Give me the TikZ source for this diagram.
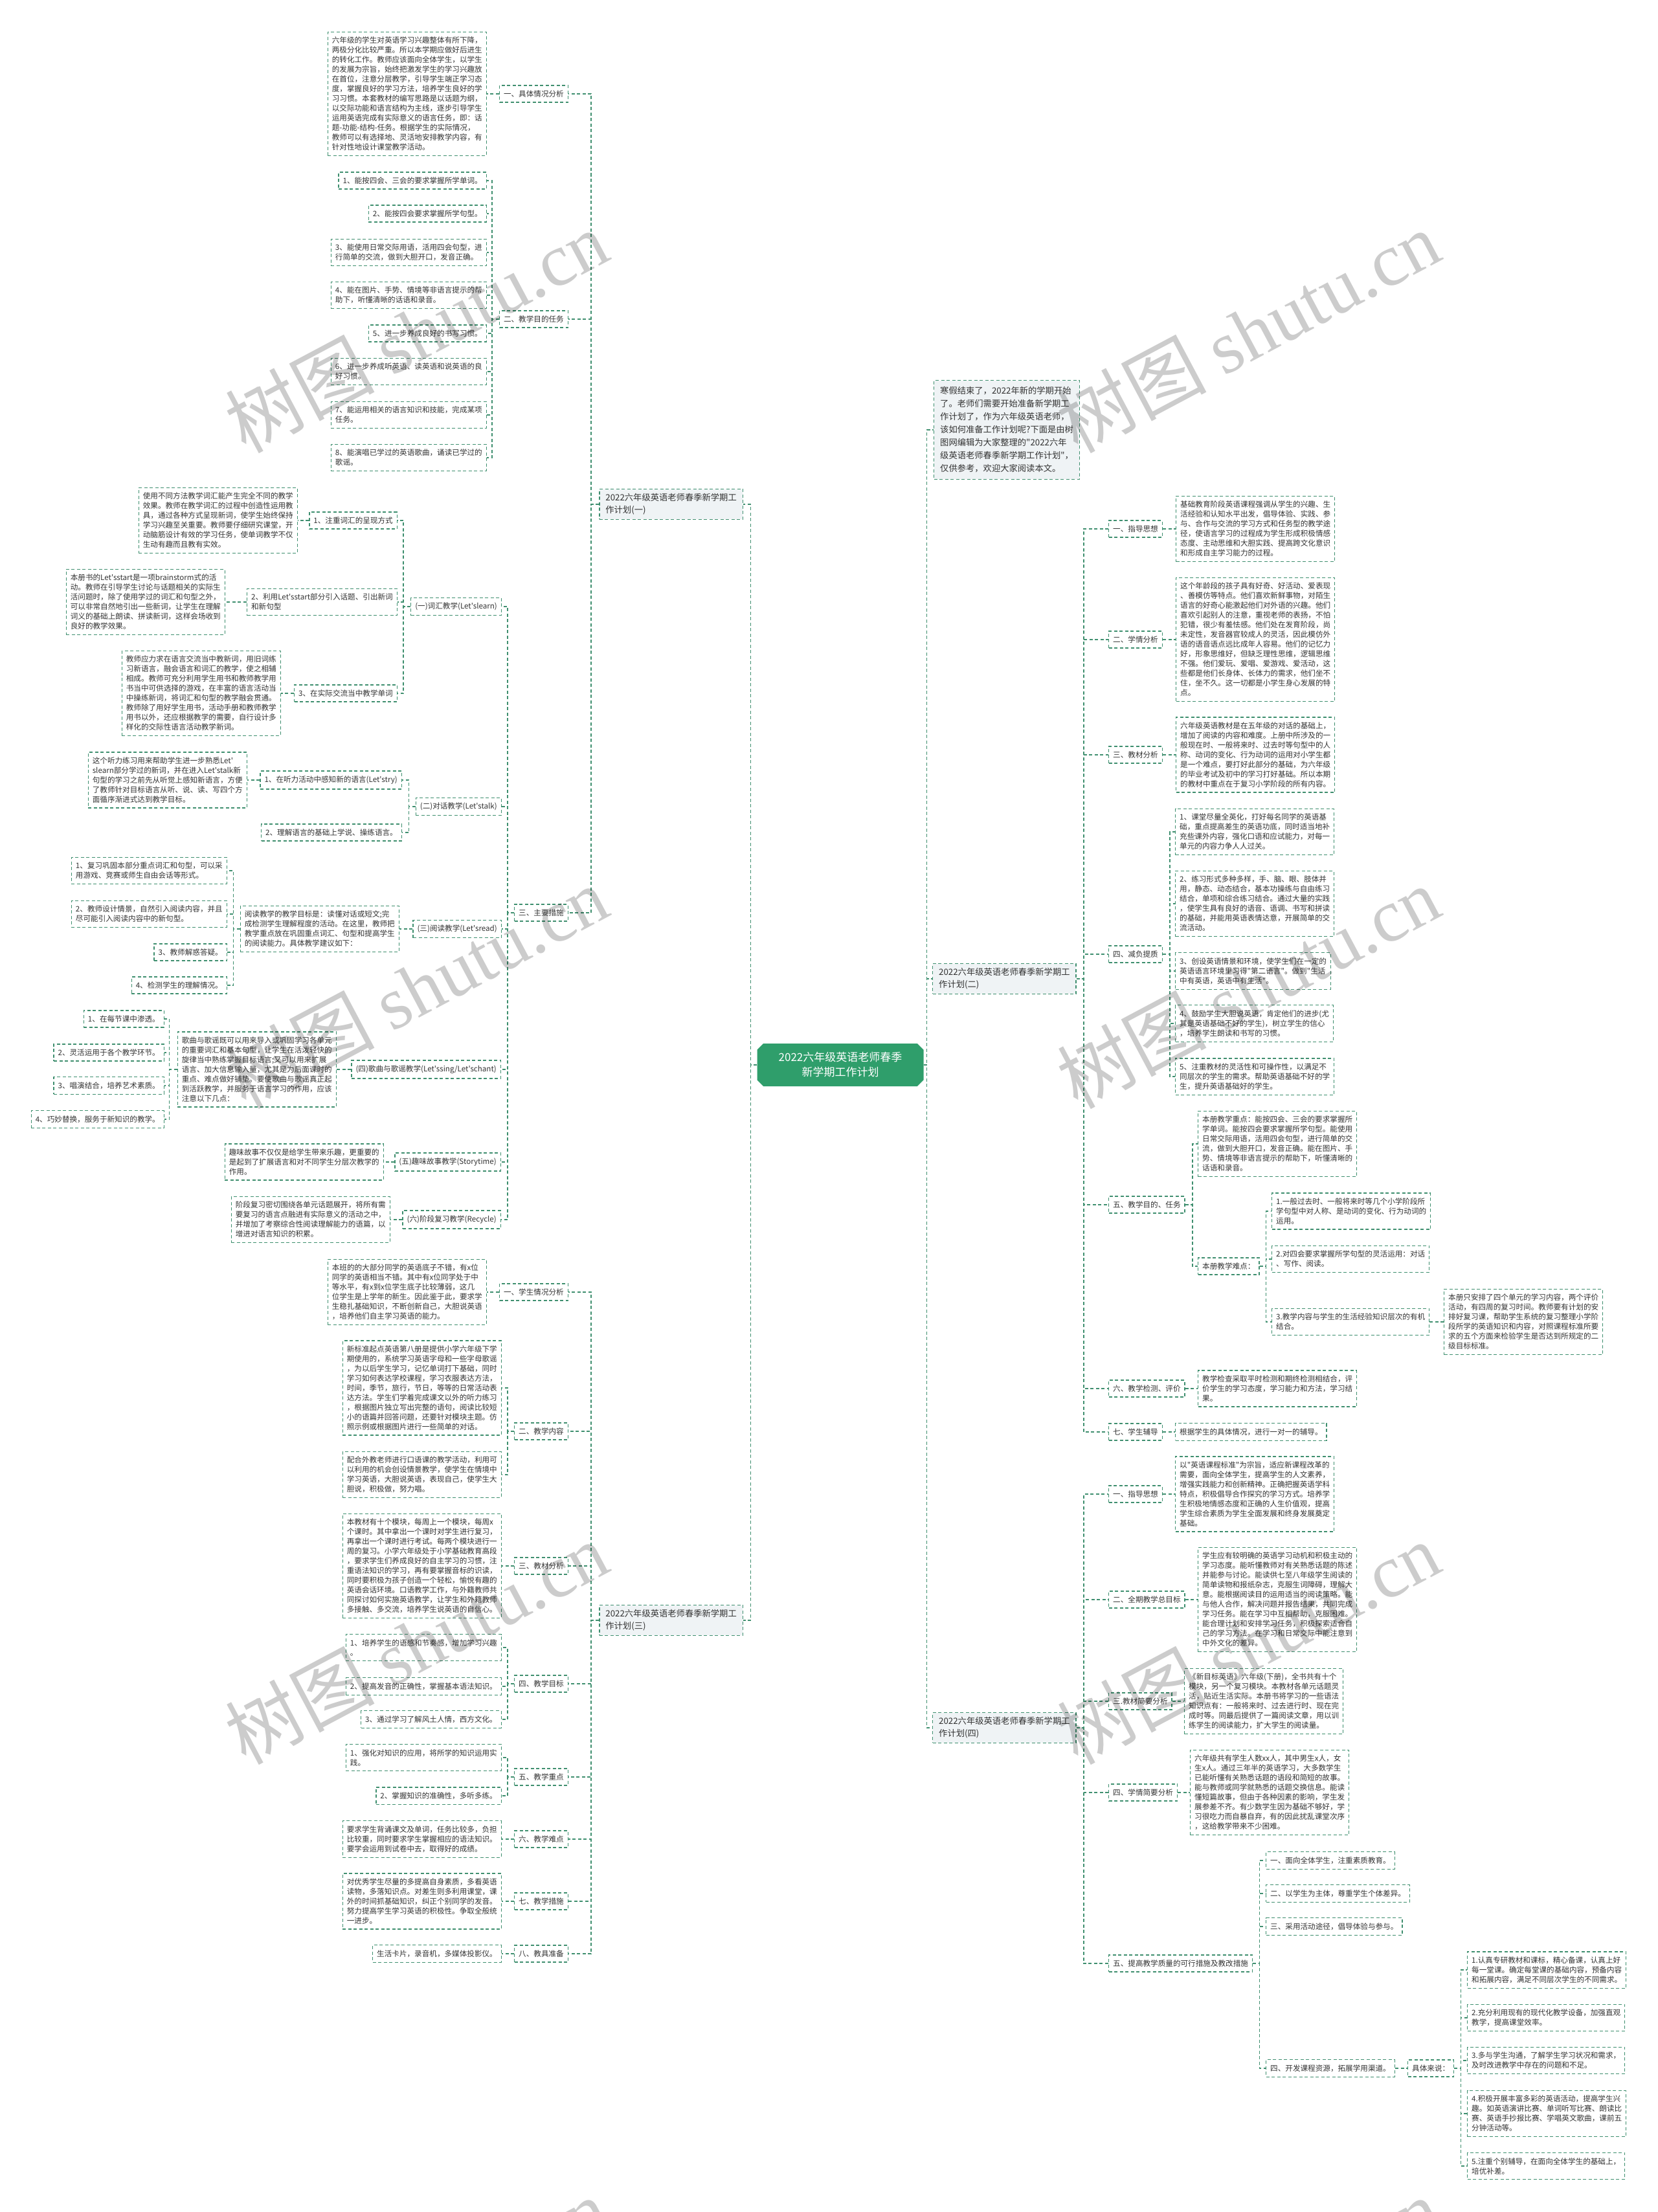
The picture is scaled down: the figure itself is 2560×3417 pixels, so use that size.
\documentclass[tikz,border=0pt]{standalone}
\usepackage{fontspec}
\setmainfont{Noto Sans CJK SC}[Ligatures=TeXOff]
\newfontfamily\markfont{Liberation Serif}
\usetikzlibrary{shapes.misc}
\definecolor{Line}{HTML}{3F8F6F}
\definecolor{Mist}{HTML}{EFF3F5}
\definecolor{Root}{HTML}{2F9E6B}
\definecolor{Ink}{HTML}{333333}
\tikzset{
  leaf/.style={draw=Line, line width=1.4pt, dash pattern=on 5pt off 3.5pt, fill=white,
    text=Ink, align=left, inner xsep=6.5pt, inner ysep=7.7pt, font=\fontsize{11.6}{15}\selectfont},
  topic/.style={leaf, fill=Mist, inner xsep=9.5pt, inner ysep=7pt, font=\fontsize{13.3}{19}\selectfont},
  intro/.style={topic, inner ysep=10pt, font=\fontsize{13.3}{20}\selectfont},
  root/.style={chamfered rectangle, chamfered rectangle xsep=6pt, fill=Root, text=white,
    align=center, minimum width=257pt, minimum height=66pt, font=\fontsize{17}{23}\selectfont},
  link/.style={draw=Line, line width=1.4pt, dash pattern=on 5pt off 3.5pt},
  wmark/.style={rotate=28, text=black, text opacity=0.2, font=\fontsize{115}{115}\selectfont}
}
\begin{document}
\begin{tikzpicture}[x=1pt, y=-1pt]
\fill[white] (0,0) rectangle (2560,3417);
\useasboundingbox (0,0) rectangle (2560,3417);

% centre
\node[root] (root) at (1298,1645) {2022六年级英语老师春季\\新学期工作计划};

% left half
\begin{scope}[every node/.append style={anchor=east}]
\node[topic] (m1) at (1148,779) {2022六年级英语老师春季新学期工\\作计划(一)};
\node[topic] (m3) at (1148,2503) {2022六年级英语老师春季新学期工\\作计划(三)};

\node[leaf] (a1) at (878,145) {一、具体情况分析};
\node[leaf] (a1t) at (752,145) {六年级的学生对英语学习兴趣整体有所下降，\\两极分化比较严重。所以本学期应做好后进生\\的转化工作。教师应该面向全体学生，以学生\\的发展为宗旨，始终把激发学生的学习兴趣放\\在首位，注意分层教学，引导学生端正学习态\\度，掌握良好的学习方法，培养学生良好的学\\习习惯。本套教材的编写思路是以话题为纲，\\以交际功能和语言结构为主线，逐步引导学生\\运用英语完成有实际意义的语言任务，即：话\\题-功能-结构-任务。根据学生的实际情况，\\教师可以有选择地、灵活地安排教学内容，有\\针对性地设计课堂教学活动。};

\node[leaf] (a2) at (878,493) {二、教学目的任务};
\node[leaf] (a2i1) at (752,279) {1、能按四会、三会的要求掌握所学单词。};
\node[leaf] (a2i2) at (752,330) {2、能按四会要求掌握所学句型。};
\node[leaf] (a2i3) at (752,390) {3、能使用日常交际用语，活用四会句型，进\\行简单的交流，做到大胆开口，发音正确。};
\node[leaf] (a2i4) at (752,456) {4、能在图片、手势、情境等非语言提示的帮\\助下，听懂清晰的话语和录音。};
\node[leaf] (a2i5) at (752,515) {5、进一步养成良好的书写习惯。};
\node[leaf] (a2i6) at (752,574) {6、进一步养成听英语、读英语和说英语的良\\好习惯。};
\node[leaf] (a2i7) at (752,641) {7、能运用相关的语言知识和技能，完成某项\\任务。};
\node[leaf] (a2i8) at (752,707) {8、能演唱已学过的英语歌曲，诵读已学过的\\歌谣。};

\node[leaf] (a3) at (878,1410) {三、主要措施};
\node[leaf] (v1) at (775,937) {(一)词汇教学(Let'slearn)};
\node[leaf] (v1a) at (614,804) {1、注重词汇的呈现方式};
\node[leaf] (v1at) at (460,804) {使用不同方法教学词汇能产生完全不同的教学\\效果。教师在教学词汇的过程中创造性运用教\\具，通过各种方式呈现新词，使学生始终保持\\学习兴趣至关重要。教师要仔细研究课堂，开\\动脑筋设计有效的学习任务，使单词教学不仅\\生动有趣而且教有实效。};
\node[leaf] (v1b) at (614,930) {2、利用Let'sstart部分引入话题、引出新词\\和新句型};
\node[leaf] (v1bt) at (348,930) {本册书的Let'sstart是一项brainstorm式的活\\动。教师在引导学生讨论与话题相关的实际生\\活问题时，除了使用学过的词汇和句型之外，\\可以非常自然地引出一些新词，让学生在理解\\词义的基础上朗读、拼读新词，这样会场收到\\良好的教学效果。};
\node[leaf] (v1c) at (614,1071) {3、在实际交流当中教学单词};
\node[leaf] (v1ct) at (434,1071) {教师应力求在语言交流当中教新词，用旧词练\\习新语言，融会语言和词汇的教学，使之相辅\\相成。教师可充分利用学生用书和教师教学用\\书当中可供选择的游戏，在丰富的语言活动当\\中操练新词，将词汇和句型的教学融会贯通。\\教师除了用好学生用书，活动手册和教师教学\\用书以外，还应根据教学的需要，自行设计多\\样化的交际性语言活动教学新词。};

\node[leaf] (t2) at (775,1246) {(二)对话教学(Let'stalk)};
\node[leaf] (t2a) at (621,1205) {1、在听力活动中感知新的语言(Let'stry)};
\node[leaf] (t2at) at (382,1205) {这个听力练习用来帮助学生进一步熟悉Let'\\slearn部分学过的新词，并在进入Let'stalk新\\句型的学习之前先从听觉上感知新语言，方便\\了教师针对目标语言从听、说、读、写四个方\\面循序渐进式达到教学目标。};
\node[leaf] (t2b) at (621,1286) {2、理解语言的基础上学说、操练语言。};

\node[leaf] (r3) at (775,1435) {(三)阅读教学(Let'sread)};
\node[leaf] (r3t) at (617,1435) {阅读教学的教学目标是：读懂对话或短文;完\\成检测学生理解程度的活动。在这里，教师把\\教学重点放在巩固重点词汇、句型和提高学生\\的阅读能力。具体教学建议如下：};
\node[leaf] (r3i1) at (351,1345) {1、复习巩固本部分重点词汇和句型，可以采\\用游戏、竞赛或师生自由会话等形式。};
\node[leaf] (r3i2) at (351,1412) {2、教师设计情景，自然引入阅读内容，并且\\尽可能引入阅读内容中的新句型。};
\node[leaf] (r3i3) at (351,1471) {3、教师解惑答疑。};
\node[leaf] (r3i4) at (351,1522) {4、检测学生的理解情况。};

\node[leaf] (s4) at (774,1652) {(四)歌曲与歌谣教学(Let'ssing/Let'schant)};
\node[leaf] (s4t) at (520,1652) {歌曲与歌谣既可以用来导入或巩固学习各单元\\的重要词汇和基本句型，让学生在活泼轻快的\\旋律当中熟练掌握目标语言;又可以用来扩展\\语言、加大信息输入量，尤其是为后面课时的\\重点、难点做好铺垫。要使歌曲与歌谣真正起\\到活跃教学，并服务于语言学习的作用，应该\\注意以下几点：};
\node[leaf] (s4i1) at (254,1574) {1、在每节课中渗透。};
\node[leaf] (s4i2) at (254,1626) {2、灵活运用于各个教学环节。};
\node[leaf] (s4i3) at (254,1677) {3、唱演结合，培养艺术素质。};
\node[leaf] (s4i4) at (254,1729) {4、巧妙替换，服务于新知识的教学。};

\node[leaf] (s5) at (774,1795) {(五)趣味故事教学(Storytime)};
\node[leaf] (s5t) at (593,1795) {趣味故事不仅仅是给学生带来乐趣，更重要的\\是起到了扩展语言和对不同学生分层次教学的\\作用。};
\node[leaf] (s6) at (774,1884) {(六)阶段复习教学(Recycle)};
\node[leaf] (s6t) at (603,1884) {阶段复习密切围绕各单元话题展开，将所有需\\要复习的语言点融进有实际意义的活动之中，\\并增加了考察综合性阅读理解能力的语篇，以\\增进对语言知识的积累。};

% plan three
\node[leaf] (b1) at (878,1996) {一、学生情况分析};
\node[leaf] (b1t) at (752,1996) {本班的的大部分同学的英语底子不错，有x位\\同学的英语相当不错。其中有x位同学处于中\\等水平，有x到x位学生底子比较薄弱，这几\\位学生是上学年的新生。因此鉴于此，要求学\\生稳扎基础知识，不断创新自己，大胆说英语\\，培养他们自主学习英语的能力。};
\node[leaf] (b2) at (878,2211) {二、教学内容};
\node[leaf] (b2t1) at (775,2144) {新标准起点英语第八册是提供小学六年级下学\\期使用的，系统学习英语字母和一些字母歌谣\\，为以后学生学习，记忆单词打下基础，同时\\学习如何表达学校课程，学习衣服表达方法，\\时间，季节，旅行，节日，等等的日常活动表\\达方法。学生们学着完成课文以外的听力练习\\，根据图片独立写出完整的语句，阅读比较短\\小的语篇并回答问题，还要针对模块主题。仿\\照示例或根据图片进行一些简单的对话。};
\node[leaf] (b2t2) at (775,2278) {配合外教老师进行口语课的教学活动，利用可\\以利用的机会创设情景教学，使学生在情境中\\学习英语，大胆说英语，表现自己，使学生大\\胆说，积极做，努力唱。};
\node[leaf] (b3) at (878,2419) {三、教材分析};
\node[leaf] (b3t) at (775,2419) {本教材有十个模块，每周上一个模块，每周x\\个课时。其中拿出一个课时对学生进行复习，\\再拿出一个课时进行考试。每两个模块进行一\\周的复习。小学六年级处于小学基础教育高段\\，要求学生们养成良好的自主学习的习惯，注\\重语法知识的学习，再有要掌握音标的识读，\\同时要积极为孩子创造一个轻松，愉悦有趣的\\英语会话环境。口语教学工作，与外籍教师共\\同探讨如何实施英语教学，让学生和外籍教师\\多接触、多交流，培养学生说英语的自信心。};
\node[leaf] (b4) at (878,2601) {四、教学目标};
\node[leaf] (b4i1) at (775,2545) {1、培养学生的语感和节奏感，增加学习兴趣\\。};
\node[leaf] (b4i2) at (775,2605) {2、提高发音的正确性，掌握基本语法知识。};
\node[leaf] (b4i3) at (775,2656) {3、通过学习了解风土人情，西方文化。};
\node[leaf] (b5) at (878,2745) {五、教学重点};
\node[leaf] (b5i1) at (775,2715) {1、强化对知识的应用，将所学的知识运用实\\践。};
\node[leaf] (b5i2) at (775,2774) {2、掌握知识的准确性，多听多练。};
\node[leaf] (b6) at (878,2841) {六、教学难点};
\node[leaf] (b6t) at (775,2841) {要求学生背诵课文及单词，任务比较多，负担\\比较重，同时要求学生掌握相应的语法知识。\\要学会运用到试卷中去，取得好的成绩。};
\node[leaf] (b7) at (878,2937) {七、教学措施};
\node[leaf] (b7t) at (775,2937) {对优秀学生尽量的多提高自身素质，多看英语\\读物，多落知识点。对差生则多利用课堂，课\\外的时间抓基础知识，纠正个别同学的发音。\\努力提高学生学习英语的积极性。争取全般统\\一进步。};
\node[leaf] (b8) at (878,3018) {八、教具准备};
\node[leaf] (b8t) at (775,3018) {生活卡片，录音机，多媒体投影仪。};
\end{scope}

% right half
\begin{scope}[every node/.append style={anchor=west}]
\node[intro] (intro) at (1442,664) {寒假结束了，2022年新的学期开始\\了。老师们需要开始准备新学期工\\作计划了，作为六年级英语老师，\\该如何准备工作计划呢?下面是由树\\图网编辑为大家整理的"2022六年\\级英语老师春季新学期工作计划"，\\仅供参考，欢迎大家阅读本文。};
\node[topic] (m2) at (1440,1512) {2022六年级英语老师春季新学期工\\作计划(二)};
\node[topic] (m4) at (1440,2669) {2022六年级英语老师春季新学期工\\作计划(四)};

\node[leaf] (c1) at (1712,817) {一、指导思想};
\node[leaf] (c1t) at (1816,817) {基础教育阶段英语课程强调从学生的兴趣、生\\活经验和认知水平出发，倡导体验、实践、参\\与、合作与交流的学习方式和任务型的教学途\\径，使语言学习的过程成为学生形成积极情感\\态度、主动思维和大胆实践、提高跨文化意识\\和形成自主学习能力的过程。};
\node[leaf] (c2) at (1712,988) {二、学情分析};
\node[leaf] (c2t) at (1816,988) {这个年龄段的孩子具有好奇、好活动、爱表现\\、善模仿等特点。他们喜欢新鲜事物，对陌生\\语言的好奇心能激起他们对外语的兴趣。他们\\喜欢引起别人的注意，重视老师的表扬，不怕\\犯错，很少有羞怯感。他们处在发育阶段，尚\\未定性，发音器官较成人的灵活，因此模仿外\\语的语音语点远比成年人容易。他们的记忆力\\好，形象思维好，但缺乏理性思维，逻辑思维\\不强。他们爱玩、爱唱、爱游戏、爱活动，这\\些都是他们长身体、长体力的需求，他们坐不\\住，坐不久。这一切都是小学生身心发展的特\\点。};
\node[leaf] (c3) at (1712,1166) {三、教材分析};
\node[leaf] (c3t) at (1816,1166) {六年级英语教材是在五年级的对话的基础上，\\增加了阅读的内容和难度。上册中所涉及的一\\般现在时、一般将来时、过去时等句型中的人\\称、动词的变化、行为动词的运用对小学生都\\是一个难点，要打好此部分的基础，为六年级\\的毕业考试及初中的学习打好基础。所以本期\\的教材中重点在于复习小学阶段的所有内容。};
\node[leaf] (c4) at (1712,1474) {四、减负提质};
\node[leaf] (c4i1) at (1815,1285) {1、课堂尽量全英化，打好每名同学的英语基\\础，重点提高差生的英语功底，同时适当地补\\充些课外内容，强化口语和应试能力，对每一\\单元的内容力争人人过关。};
\node[leaf] (c4i2) at (1815,1396) {2、练习形式多种多样，手、脑、眼、肢体并\\用，静态、动态结合，基本功操练与自由练习\\结合，单项和综合练习结合。通过大量的实践\\，使学生具有良好的语音、语调、书写和拼读\\的基础，并能用英语表情达意，开展简单的交\\流活动。};
\node[leaf] (c4i3) at (1815,1500) {3、创设英语情景和环境，使学生们在一定的\\英语语言环境里习得"第二语言"。做到"生活\\中有英语，英语中有生活"。};
\node[leaf] (c4i4) at (1815,1581) {4、鼓励学生大胆说英语，肯定他们的进步(尤\\其是英语基础不好的学生)，树立学生的信心\\，培养学生朗读和书写的习惯。};
\node[leaf] (c4i5) at (1815,1663) {5、注重教材的灵活性和可操作性，以满足不\\同层次的学生的需求。帮助英语基础不好的学\\生，提升英语基础好的学生。};
\node[leaf] (c5) at (1712,1861) {五、教学目的、任务};
\node[leaf] (c5t) at (1850,1767) {本册教学重点：能按四会、三会的要求掌握所\\学单词。能按四会要求掌握所学句型。能使用\\日常交际用语，活用四会句型，进行简单的交\\流，做到大胆开口，发音正确。能在图片、手\\势、情境等非语言提示的帮助下，听懂清晰的\\话语和录音。};
\node[leaf] (c5d) at (1850,1956) {本册教学难点：};
\node[leaf] (c5d1) at (1964,1871) {1.一般过去时、一般将来时等几个小学阶段所\\学句型中对人称、是动词的变化、行为动词的\\运用。};
\node[leaf] (c5d2) at (1964,1945) {2.对四会要求掌握所学句型的灵活运用：对话\\、写作、阅读。};
\node[leaf] (c5d3) at (1964,2042) {3.教学内容与学生的生活经验知识层次的有机\\结合。};
\node[leaf] (c5d3t) at (2230,2042) {本册只安排了四个单元的学习内容，两个评价\\活动，有四周的复习时间。教师要有计划的安\\排好复习课，帮助学生系统的复习整理小学阶\\段所学的英语知识和内容，对照课程标准所要\\求的五个方面来检验学生是否达到所规定的二\\级目标标准。};
\node[leaf] (c6) at (1712,2145) {六、教学检测、评价};
\node[leaf] (c6t) at (1850,2145) {教学检查采取平时检测和期终检测相结合，评\\价学生的学习态度，学习能力和方法，学习结\\果。};
\node[leaf] (c7) at (1712,2212) {七、学生辅导};
\node[leaf] (c7t) at (1815,2212) {根据学生的具体情况，进行一对一的辅导。};

% plan four
\node[leaf] (d1) at (1712,2308) {一、指导思想};
\node[leaf] (d1t) at (1815,2308) {以"英语课程标准"为宗旨，适应新课程改革的\\需要，面向全体学生，提高学生的人文素养，\\增强实践能力和创新精神。正确把握英语学科\\特点，积极倡导合作探究的学习方式。培养学\\生积极地情感态度和正确的人生价值观，提高\\学生综合素质为学生全面发展和终身发展奠定\\基础。};
\node[leaf] (d2) at (1712,2471) {二、全期教学总目标};
\node[leaf] (d2t) at (1850,2471) {学生应有较明确的英语学习动机和积极主动的\\学习态度。能听懂教师对有关熟悉话题的陈述\\并能参与讨论。能读供七至八年级学生阅读的\\简单读物和报纸杂志，克服生词障碍，理解大\\意。能根据阅读目的运用适当的阅读策略。能\\与他人合作，解决问题并报告结果，共同完成\\学习任务。能在学习中互相帮助，克服困难。\\能合理计划和安排学习任务，积极探索适合自\\己的学习方法。在学习和日常交际中能注意到\\中外文化的差异。};
\node[leaf] (d3) at (1712,2628) {三.教材简要分析};
\node[leaf] (d3t) at (1829,2628) {《新目标英语》六年级(下册)，全书共有十个\\模块，另一个复习模块。本教材各单元话题灵\\活，贴近生活实际。本册书将学习的一些语法\\知识点有：一般将来时、过去进行时、现在完\\成时等。同最后提供了一篇阅读文章，用以训\\练学生的阅读能力，扩大学生的阅读量。};
\node[leaf] (d4) at (1712,2769) {四、学情简要分析};
\node[leaf] (d4t) at (1838,2769) {六年级共有学生人数xx人，其中男生x人，女\\生x人。通过三年半的英语学习，大多数学生\\已能听懂有关熟悉话题的语段和简短的故事。\\能与教师或同学就熟悉的话题交换信息。能读\\懂短篇故事，但由于各种因素的影响，学生发\\展参差不齐。有少数学生因为基础不够好，学\\习很吃力而自暴自弃，有的因此扰乱课堂次序\\，这给教学带来不少困难。};
\node[leaf] (d5) at (1712,3033) {五、提高教学质量的可行措施及教改措施};
\node[leaf] (d5i1) at (1955,2874) {一、面向全体学生，注重素质教育。};
\node[leaf] (d5i2) at (1955,2925) {二、以学生为主体，尊重学生个体差异。};
\node[leaf] (d5i3) at (1955,2976) {三、采用活动途径，倡导体验与参与。};
\node[leaf] (d5i4) at (1955,3195) {四、开发课程资源，拓展学用渠道。};
\node[leaf] (d5s) at (2174,3195) {具体来说：};
\node[leaf] (d5s1) at (2266,3043) {1.认真专研教材和课标，精心备课，认真上好\\每一堂课。确定每堂课的基础内容，预备内容\\和拓展内容，满足不同层次学生的不同需求。};
\node[leaf] (d5s2) at (2266,3117) {2.充分利用现有的现代化教学设备，加强直观\\教学，提高课堂效率。};
\node[leaf] (d5s3) at (2266,3183) {3.多与学生沟通，了解学生学习状况和需求，\\及时改进教学中存在的问题和不足。};
\node[leaf] (d5s4) at (2266,3265) {4.积极开展丰富多彩的英语活动，提高学生兴\\趣。如英语演讲比赛、单词听写比赛、朗读比\\赛、英语手抄报比赛、学唱英文歌曲，课前五\\分钟活动等。};
\node[leaf] (d5s5) at (2266,3346) {5.注重个别辅导，在面向全体学生的基础上，\\培优补差。};
\end{scope}

% connectors, left half
\foreach \c in {m1,m3} \draw[link] (root.west) -- ++(-10,0) |- (\c.east);
\foreach \c in {a1,a2,a3} \draw[link] (m1.west) -- ++(-12,0) |- (\c.east);
\draw[link] (a1.west) -- (a1t.east);
\foreach \c in {a2i1,a2i2,a2i3,a2i4,a2i5,a2i6,a2i7,a2i8} \draw[link] (a2.west) -- ++(-11,0) |- (\c.east);
\foreach \c in {v1,t2,r3,s4,s5,s6} \draw[link] (a3.west) -- ++(-10,0) |- (\c.east);
\foreach \c in {v1a,v1b,v1c} \draw[link] (v1.west) -- ++(-11,0) |- (\c.east);
\draw[link] (v1a.west) -- (v1at.east);
\draw[link] (v1b.west) -- (v1bt.east);
\draw[link] (v1c.west) -- (v1ct.east);
\foreach \c in {t2a,t2b} \draw[link] (t2.west) -- ++(-10,0) |- (\c.east);
\draw[link] (t2a.west) -- (t2at.east);
\draw[link] (r3.west) -- (r3t.east);
\foreach \c in {r3i1,r3i2,r3i3,r3i4} \draw[link] (r3t.west) -- ++(-10,0) |- (\c.east);
\draw[link] (s4.west) -- (s4t.east);
\foreach \c in {s4i1,s4i2,s4i3,s4i4} \draw[link] (s4t.west) -- ++(-12,0) |- (\c.east);
\draw[link] (s5.west) -- (s5t.east);
\draw[link] (s6.west) -- (s6t.east);
\foreach \c in {b1,b2,b3,b4,b5,b6,b7,b8} \draw[link] (m3.west) -- ++(-12,0) |- (\c.east);
\draw[link] (b1.west) -- (b1t.east);
\foreach \c in {b2t1,b2t2} \draw[link] (b2.west) -- ++(-10,0) |- (\c.east);
\draw[link] (b3.west) -- (b3t.east);
\foreach \c in {b4i1,b4i2,b4i3} \draw[link] (b4.west) -- ++(-10,0) |- (\c.east);
\foreach \c in {b5i1,b5i2} \draw[link] (b5.west) -- ++(-10,0) |- (\c.east);
\draw[link] (b6.west) -- (b6t.east);
\draw[link] (b7.west) -- (b7t.east);
\draw[link] (b8.west) -- (b8t.east);

% connectors, right half
\foreach \c in {intro,m2,m4} \draw[link] (root.east) -- ++(5,0) |- (\c.west);
\foreach \c in {c1,c2,c3,c4,c5,c6,c7} \draw[link] (m2.east) -- ++(11,0) |- (\c.west);
\draw[link] (c1.east) -- (c1t.west);
\draw[link] (c2.east) -- (c2t.west);
\draw[link] (c3.east) -- (c3t.west);
\foreach \c in {c4i1,c4i2,c4i3,c4i4,c4i5} \draw[link] (c4.east) -- ++(11,0) |- (\c.west);
\foreach \c in {c5t,c5d} \draw[link] (c5.east) -- ++(11,0) |- (\c.west);
\foreach \c in {c5d1,c5d2,c5d3} \draw[link] (c5d.east) -- ++(10,0) |- (\c.west);
\draw[link] (c5d3.east) -- (c5d3t.west);
\draw[link] (c6.east) -- (c6t.west);
\draw[link] (c7.east) -- (c7t.west);
\foreach \c in {d1,d2,d3,d4,d5} \draw[link] (m4.east) -- ++(11,0) |- (\c.west);
\draw[link] (d1.east) -- (d1t.west);
\draw[link] (d2.east) -- (d2t.west);
\draw[link] (d3.east) -- (d3t.west);
\draw[link] (d4.east) -- (d4t.west);
\foreach \c in {d5i1,d5i2,d5i3,d5i4} \draw[link] (d5.east) -- ++(10,0) |- (\c.west);
\draw[link] (d5i4.east) -- (d5s.west);
\foreach \c in {d5s1,d5s2,d5s3,d5s4,d5s5} \draw[link] (d5s.east) -- ++(10,0) |- (\c.west);

% watermark
\foreach \x in {643,1928} \foreach \y in {512,1525,2538,3551}
  \node[wmark] at (\x,\y) {树图 {\markfont shutu.cn}};
\end{tikzpicture}
\end{document}
